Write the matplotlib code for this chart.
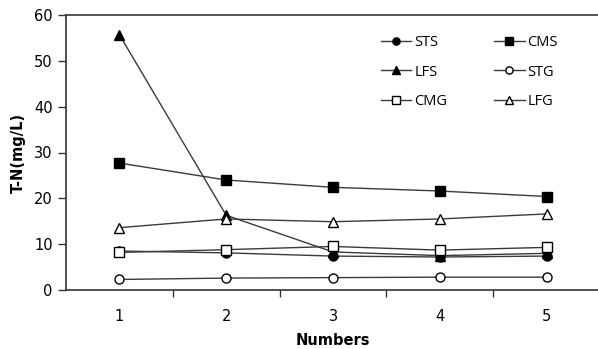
import matplotlib.pyplot as plt
from matplotlib.ticker import FixedLocator

numbers = [1, 2, 3, 4, 5]
sts = [8.5, 8.1, 7.4, 7.2, 7.4]
cms = [27.7, 24.0, 22.4, 21.6, 20.4]
lfs = [55.7, 16.3, 8.3, 7.5, 8.0]
stg = [2.3, 2.6, 2.7, 2.8, 2.8]
cmg = [8.2, 8.8, 9.5, 8.7, 9.3]
lfg = [13.6, 15.5, 14.9, 15.5, 16.6]

series = [
    ("STS", sts, "o", "black"),
    ("CMS", cms, "s", "black"),
    ("LFS", lfs, "^", "black"),
    ("STG", stg, "o", "white"),
    ("CMG", cmg, "s", "white"),
    ("LFG", lfg, "^", "white"),
]

fig = plt.figure(figsize=(5.98, 3.49), dpi=100)
ax = fig.add_axes([66 / 598, 59 / 349, 534 / 598, 275 / 349])

for name, vals, mk, fc in series:
    ax.plot(numbers, vals, color="#3a3a3a", lw=1.0, marker=mk, markersize=6.5,
            markerfacecolor=fc, markeredgecolor="black", markeredgewidth=1.0,
            label=name)

ax.set_xlim(0.5, 5.5)
ax.set_ylim(0, 60)
ax.set_yticks(range(0, 61, 10))
ax.set_xticks(numbers)
ax.xaxis.set_minor_locator(FixedLocator([1.5, 2.5, 3.5, 4.5]))
ax.tick_params(axis="x", which="major", length=0, pad=14, labelsize=10.5)
ax.tick_params(axis="x", which="minor", length=5, width=1, direction="out", color="#333333")
ax.tick_params(axis="y", length=6, width=1, direction="out", labelsize=10.5, color="#333333")

for s in ["left", "bottom", "top"]:
    ax.spines[s].set_color("#333333")
    ax.spines[s].set_linewidth(1.2)
ax.spines["right"].set_visible(False)

ax.set_xlabel("Numbers", fontweight="bold", fontsize=10.5, labelpad=6)
ax.set_ylabel("T-N(mg/L)", fontweight="bold", fontsize=10.5, labelpad=6)

# legend filled row by row like the original
handles, labels = ax.get_legend_handles_labels()
order = [0, 2, 4, 1, 3, 5]
ax.legend([handles[i] for i in order], [labels[i] for i in order],
          ncol=2, loc="upper left", bbox_to_anchor=(0.565, 0.975), frameon=False,
          handlelength=2.1, columnspacing=3.2, labelspacing=1.0, markerscale=0.8,
          handletextpad=0.2, prop={"family": "Open Sans", "size": 10.5})

fig.savefig("out.png", dpi=100)
